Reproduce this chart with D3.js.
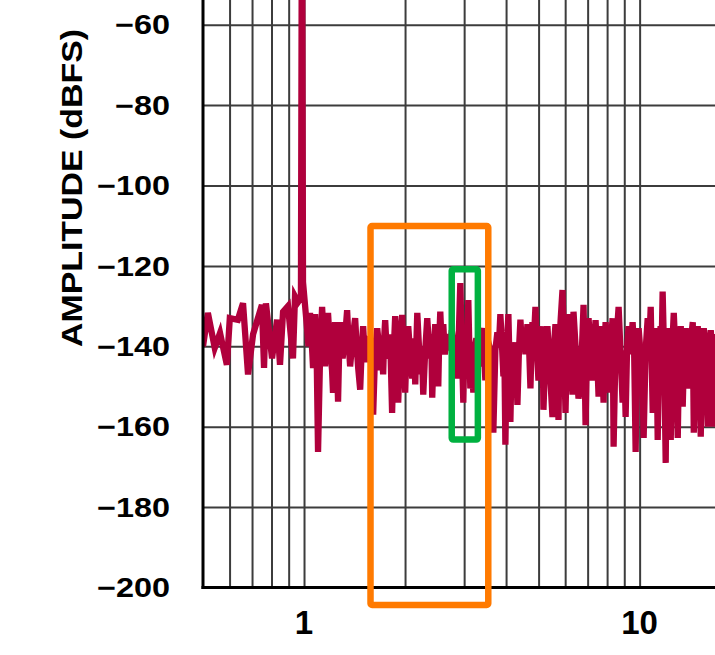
<!DOCTYPE html>
<html>
<head>
<meta charset="utf-8">
<script src="https://cdn.jsdelivr.net/npm/d3@7"></script>
<style>
  html, body { margin: 0; padding: 0; background: #fff; }
  svg { display: block; }
  text { font-family: "Liberation Sans", Arial, Helvetica, sans-serif; font-weight: bold; fill: #000; }
</style>
</head>
<body>
<svg id="chart" width="715" height="655"></svg>
<script>
// ---- data: [frequency, amplitude dBFS] ----
const spectrum = [
  [0.50,-140],[0.517,-131.7],[0.542,-140.4],[0.562,-136.7],[0.589,-144.6],[0.601,-133],
  [0.635,-133.4],[0.658,-129.3],[0.681,-147],[0.705,-137],[0.749,-129.7],[0.760,-145.4],
  [0.770,-129.3],[0.803,-143],[0.831,-133.4],[0.848,-144.6],[0.866,-131.4],[0.896,-130],
  [0.927,-143],[0.940,-127.6],[0.960,-129],[0.979,-128],[0.986,-20],[0.993,-124],
  [1.021,-135.5],[1.031,-140],[1.042,-131.7],[1.053,-138],[1.064,-145.4],[1.071,-139],
  [1.079,-132],[1.090,-141],[1.101,-166.3],[1.116,-143],[1.132,-130.2],[1.143,-137],
  [1.155,-145],[1.167,-138],[1.179,-131.7],[1.195,-140],[1.212,-146],[1.220,-151.6],
  [1.228,-141],[1.237,-134],[1.250,-139],[1.263,-153.8],[1.272,-142],[1.281,-134],
  [1.303,-143],[1.326,-137.5],[1.344,-131],[1.358,-139],[1.372,-145],[1.396,-138],
  [1.420,-133],[1.435,-140],[1.450,-145.4],[1.470,-150.8],[1.485,-141],[1.500,-135],
  [1.521,-144],[1.542,-137.5],[1.558,-140],[1.574,-142],[1.590,-138],[1.607,-157],
  [1.629,-141],[1.652,-135.5],[1.669,-139],[1.686,-146],[1.703,-140],[1.721,-147],
  [1.733,-138],[1.745,-133.5],[1.763,-141],[1.781,-143],[1.805,-137],[1.830,-156.6],
  [1.849,-142],[1.869,-132.5],[1.888,-139],[1.908,-154],[1.934,-140],[1.961,-132.2],
  [1.981,-141],[2.002,-151.5],[2.023,-139],[2.044,-135],[2.072,-142],[2.101,-148],
  [2.123,-138],[2.145,-149.5],[2.160,-140],[2.175,-131.7],[2.197,-139],[2.220,-147],
  [2.243,-140],[2.266,-152],[2.297,-141],[2.329,-133],[2.353,-139],[2.377,-143],
  [2.393,-137],[2.410,-152.8],[2.435,-141],[2.460,-134.5],[2.486,-140],[2.512,-150],
  [2.529,-138],[2.547,-131.4],[2.573,-140],[2.600,-134.5],[2.627,-142],[2.654,-139],
  [2.691,-137],[2.728,-141],[2.756,-136],[2.785,-139],[2.823,-143],[2.862,-148],
  [2.892,-137],[2.922,-124.3],[2.952,-140],[2.983,-154],[3.003,-141],[3.024,-135],
  [3.055,-142],[3.087,-128.5],[3.108,-140],[3.130,-150.5],[3.162,-144],[3.195,-151.5],
  [3.228,-140],[3.262,-138],[3.296,-142],[3.330,-145],[3.365,-137],[3.400,-135.5],
  [3.435,-141],[3.470,-148.5],[3.518,-138],[3.567,-140],[3.616,-144],[3.665,-161.5],
  [3.716,-141],[3.768,-136.5],[3.807,-140],[3.846,-132],[3.886,-139],[3.927,-147.5],
  [3.954,-142],[3.981,-164.5],[4.022,-140],[4.064,-132],[4.092,-143],[4.120,-158.8],
  [4.163,-140],[4.206,-146],[4.265,-139],[4.324,-154.6],[4.369,-141],[4.414,-133.4],
  [4.459,-140],[4.505,-135.5],[4.568,-142],[4.631,-134.5],[4.679,-139],[4.728,-150.5],
  [4.760,-141],[4.793,-134],[4.843,-138],[4.893,-130.2],[4.944,-141],[4.995,-148.5],
  [5.064,-140],[5.134,-135],[5.169,-155.8],[5.241,-141],[5.313,-135],[5.368,-142],
  [5.424,-148.5],[5.499,-157.6],[5.556,-140],[5.613,-134.5],[5.672,-143],[5.731,-158.3],
  [5.771,-141],[5.811,-134],[5.891,-126],[5.952,-140],[6.014,-156.6],[6.077,-139],
  [6.140,-132],[6.225,-142],[6.310,-152],[6.353,-131.4],[6.464,-142],[6.575,-153],
  [6.667,-149.5],[6.736,-140],[6.806,-129.7],[6.853,-143],[6.901,-159.6],[6.972,-140],
  [7.044,-133],[7.142,-141],[7.240,-148.5],[7.315,-139],[7.391,-133.5],[7.468,-142],
  [7.545,-152.5],[7.597,-140],[7.650,-135],[7.729,-142],[7.809,-154],[7.863,-140],
  [7.918,-134],[8.000,-142],[8.083,-151.5],[8.195,-140],[8.307,-133],[8.365,-165],
  [8.480,-140],[8.597,-134],[8.657,-130.2],[8.777,-142],[8.898,-154],[8.990,-141],
  [9.084,-157.6],[9.178,-140],[9.272,-135],[9.400,-142],[9.530,-134],[9.630,-141],
  [9.730,-166.3],[9.830,-140],[9.931,-135.5],[10.07,-142],[10.21,-150.5],[10.28,-162.8],
  [10.42,-141],[10.57,-133],[10.68,-140],[10.79,-130.2],[10.86,-143],[10.94,-156.6],
  [11.05,-140],[11.16,-135.5],[11.24,-142],[11.32,-163.3],[11.43,-141],[11.55,-135],
  [11.63,-140],[11.71,-126.4],[11.83,-142],[11.96,-169],[12.04,-141],[12.12,-135.5],
  [12.25,-142],[12.38,-163.3],[12.51,-140],[12.64,-131.7],[12.81,-143],[12.99,-162.8],
  [13.12,-140],[13.26,-135],[13.35,-142],[13.44,-155],[13.58,-140],[13.72,-135.5],
  [13.86,-142],[14.01,-150.5],[14.20,-139],[14.40,-134],[14.50,-161.5],[14.70,-141],
  [14.90,-135],[15.05,-143],[15.21,-162.5],[15.37,-140],[15.53,-135.5],[15.74,-142],
  [15.96,-160],[16.12,-140],[16.29,-136],[16.46,-142],[16.63,-160],[16.81,-141],
  [16.99,-137]
];
const yTickValues = [-200, -180, -160, -140, -120, -100, -80, -60];
const xGridValues = [0.6, 0.7, 0.8, 0.9, 1, 2, 3, 4, 5, 6, 7, 8, 9, 10];
const xLabelValues = [1, 10];
const yTitle = "AMPLITUDE (dBFS)";
// annotation boxes: [fLow, fHigh, dBTop, dBBottom]
const orangeBox = [1.578, 3.54, -110.1, -204.35];
const greenBox = [2.755, 3.296, -120.85, -163.2];

// ---- layout ----
const svg = d3.select("#chart");
const x0 = 203, yBottom = 587.5, yTopTick = 24.7, plotTop = 0, plotRight = 715;
const x = d3.scaleLog().domain([0.5, 20]).range([x0, x0 + 335.6 * Math.log10(40)]);
const y = d3.scaleLinear().domain([-200, -60]).range([yBottom, yTopTick]);

svg.append("defs").append("clipPath").attr("id", "plotclip")
  .append("rect").attr("x", x0).attr("y", plotTop)
  .attr("width", plotRight - x0).attr("height", yBottom - plotTop);

// grid: vertical
const gx = svg.append("g").attr("transform", `translate(0,${yBottom})`)
  .call(d3.axisBottom(x).tickValues(xGridValues).tickSize(-(yBottom - plotTop)).tickFormat(""));
gx.select(".domain").remove();
gx.selectAll("line").attr("stroke", "#3c3c3c").attr("stroke-width", 2);

// grid: horizontal
const gy = svg.append("g").attr("transform", `translate(${x0},0)`)
  .call(d3.axisLeft(y).tickValues(yTickValues.filter(v => v > -200)).tickSize(-(plotRight - x0)).tickFormat(""));
gy.select(".domain").remove();
gy.selectAll("line").attr("stroke", "#3c3c3c").attr("stroke-width", 2);

// spectrum line
svg.append("g").attr("clip-path", "url(#plotclip)")
  .append("path").datum(spectrum)
  .attr("fill", "none")
  .attr("stroke", "#b0003c")
  .attr("stroke-width", 6.3)
  .attr("d", d3.line().x(d => x(d[0])).y(d => y(d[1])));

// axes lines
svg.append("line").attr("x1", x0).attr("x2", x0).attr("y1", plotTop).attr("y2", yBottom + 1.5)
  .attr("stroke", "#000").attr("stroke-width", 3);
svg.append("line").attr("x1", x0 - 1.5).attr("x2", plotRight).attr("y1", yBottom).attr("y2", yBottom)
  .attr("stroke", "#000").attr("stroke-width", 3);

// y tick labels
yTickValues.forEach(v => {
  svg.append("g").attr("transform", `translate(170,${y(v) + 9.7}) scale(1.2,1)`)
    .append("text").attr("text-anchor", "end").attr("font-size", 27)
    .text("\u2212" + Math.abs(v));
});

// x tick labels
xLabelValues.forEach(v => {
  svg.append("text").attr("x", x(v)).attr("y", 634)
    .attr("text-anchor", "middle").attr("font-size", 33).text(String(v));
});

// y title
svg.append("g").attr("transform", "translate(81.5,188) rotate(-90) scale(1.13,1)")
  .append("text").attr("text-anchor", "middle").attr("font-size", 30).text(yTitle);

// annotation boxes
function box(b, color) {
  svg.append("rect")
    .attr("x", x(b[0])).attr("y", y(b[2]))
    .attr("width", x(b[1]) - x(b[0])).attr("height", y(b[3]) - y(b[2]))
    .attr("fill", "none").attr("stroke", color).attr("stroke-width", 6.5)
    .attr("stroke-linejoin", "round").attr("rx", 1.5);
}
box(orangeBox, "#ff7a00");
box(greenBox, "#00b140");
</script>
</body>
</html>
